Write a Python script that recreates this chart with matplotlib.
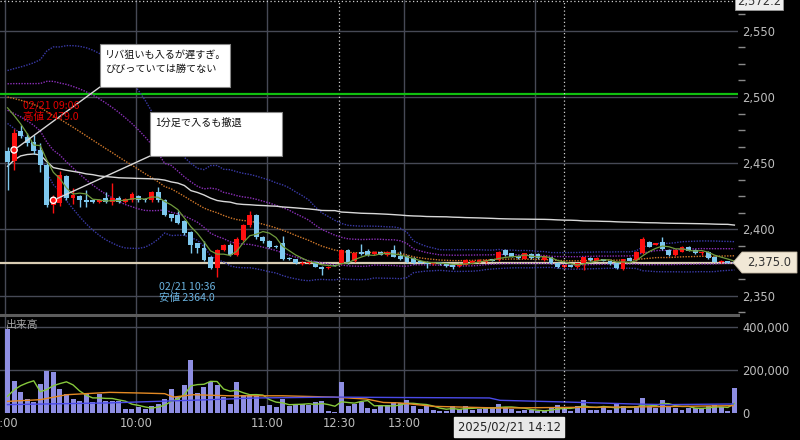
import matplotlib
matplotlib.use('Agg')
import matplotlib.pyplot as plt
import numpy as np
import pandas as pd
from matplotlib.patches import Rectangle, Polygon
from matplotlib.ticker import FixedLocator, MultipleLocator, FuncFormatter

# ---------------- data ----------------
opens = [2459.5, 2452, 2474.5, 2470, 2466, 2460, 2449, 2418.5, 2420, 2440,
         2423.5, 2425, 2422, 2422, 2421, 2424, 2420.5, 2424, 2421, 2422,
         2425.5, 2423, 2422, 2428.5, 2422, 2411.5, 2411, 2406, 2398, 2389.5,
         2386, 2379.5, 2370.7, 2384.5, 2388.5, 2381, 2392, 2403, 2411, 2394,
         2391, 2387.5, 2389.5, 2378.5, 2377.5, 2374, 2374.5, 2375.5, 2372, 2371,
         2373, 2374.5, 2384.5, 2376, 2383, 2384, 2381.8, 2383, 2380.5, 2384.5,
         2380, 2380, 2378.2, 2376, 2375, 2374, 2375, 2375, 2373.5, 2372.6,
         2373.2, 2374.5, 2375, 2375.5, 2377.5, 2377, 2384.5, 2382, 2380, 2378,
         2381.5, 2381.5, 2377, 2379, 2375, 2371.5, 2373, 2371.5, 2374.4, 2378.5,
         2376.5, 2377.5, 2376, 2375, 2370, 2378.5, 2377, 2382, 2390.7, 2388.5,
         2390.7, 2384.5, 2380.7, 2383.2, 2387, 2384.5, 2382, 2383.2, 2379.5, 2375.5,
         2376, 2375]
closes = [2451, 2473, 2470.5, 2465, 2459, 2449, 2418.5, 2424, 2441, 2424,
          2426, 2422, 2421, 2421, 2422, 2421, 2424, 2420.5, 2423, 2427,
          2422, 2422, 2428.5, 2422, 2411, 2409, 2404.5, 2397, 2388.5, 2386,
          2377, 2370.7, 2384.5, 2388.5, 2381, 2393, 2403, 2411, 2394, 2391,
          2387, 2386.5, 2378, 2377.5, 2374.5, 2375, 2375, 2372, 2370, 2372,
          2372.5, 2384.5, 2375, 2382, 2381.5, 2380.5, 2383, 2381, 2383, 2379.5,
          2377.5, 2375.7, 2374.4, 2375, 2374, 2375, 2374.5, 2372.6, 2372, 2374,
          2377, 2376.5, 2377, 2377, 2376.5, 2383.2, 2380.7, 2379.5, 2378.2, 2382,
          2378.5, 2378.5, 2380, 2374.4, 2371.5, 2373, 2372, 2374.4, 2379, 2377,
          2378.5, 2376.5, 2374, 2370.7, 2377.5, 2376.5, 2383.2, 2392.6, 2386.9, 2389.5,
          2385, 2380.7, 2384.5, 2387, 2384, 2382, 2382.8, 2378.2, 2375.7, 2376.5,
          2375, 2375]
highs = [2462, 2476, 2479, 2473, 2471, 2465, 2450, 2426, 2444, 2441,
         2431, 2426, 2430, 2423, 2423, 2428.5, 2435, 2425, 2424, 2428,
         2426, 2424, 2429, 2432, 2423, 2412, 2414, 2407, 2399, 2390,
         2391, 2380, 2385, 2389, 2390, 2394, 2404, 2414, 2412, 2395,
         2392, 2388, 2395, 2379, 2378, 2376, 2376, 2376, 2372.5, 2372.5,
         2373.5, 2385.5, 2385, 2383, 2389, 2385, 2384, 2383.5, 2383.5, 2388.3,
         2384, 2381, 2379, 2377, 2376, 2375.5, 2375.5, 2375.5, 2374, 2374.5,
         2377.5, 2377, 2377.5, 2377.5, 2378, 2384, 2385, 2382.5, 2380.5, 2382.5,
         2382, 2382, 2380.5, 2379.5, 2375.5, 2373.5, 2373.5, 2375, 2379.5, 2379,
         2379, 2378, 2376.5, 2375.5, 2378, 2379, 2383.5, 2394.6, 2391, 2390,
         2394, 2385, 2385, 2387.5, 2387.5, 2385, 2384, 2383.5, 2380, 2377,
         2376.5, 2375.5]
lows = [2430, 2445, 2469, 2463, 2457, 2443, 2417, 2412.5, 2418, 2422,
        2419, 2417, 2417, 2420, 2420, 2420, 2418.5, 2420, 2420, 2421,
        2421, 2421, 2421, 2421, 2410, 2406, 2404, 2396, 2382, 2382,
        2376, 2370, 2364, 2384, 2380, 2380, 2391, 2402, 2393, 2390,
        2386, 2386, 2377, 2377, 2374, 2373.5, 2374, 2371.5, 2365.5, 2370.5,
        2372.5, 2374, 2374, 2375.5, 2381, 2380, 2381, 2380.5, 2380, 2379,
        2377, 2375, 2374, 2374.5, 2370.7, 2373.5, 2373.5, 2372, 2370.5, 2372,
        2373, 2374, 2374.5, 2375, 2376, 2376.5, 2380, 2379, 2378, 2377.5,
        2378, 2378, 2376.5, 2374, 2371, 2371, 2371.5, 2371, 2369.5, 2376.5,
        2376, 2376, 2373.5, 2370, 2369.5, 2376, 2376.5, 2381.5, 2386.5, 2388,
        2384.5, 2380, 2380, 2383, 2383.5, 2381.5, 2380.5, 2378, 2375.5, 2375,
        2374.5, 2374.5]
volumes = [390000, 147000, 98000, 65000, 49000, 136000, 197000, 189000, 113000, 90000,
           65000, 57000, 90000, 49000, 90000, 54000, 54000, 57000, 20000, 20000,
           26000, 18000, 31000, 42000, 65000, 113000, 74000, 132000, 248000, 93000,
           121000, 142000, 128000, 74000, 42000, 142000, 85000, 82000, 77000, 31000,
           37000, 26000, 65000, 34000, 37000, 42000, 37000, 49000, 57000, 11000,
           3000, 142000, 31000, 42000, 51000, 23000, 20000, 36000, 36000, 49000,
           47000, 59000, 34000, 19000, 38000, 12000, 11000, 8000, 34000, 19000,
           31000, 16000, 19000, 26000, 26000, 42000, 26000, 20000, 11000, 12000,
           12000, 8000, 8000, 26000, 39000, 26000, 8000, 31000, 62000, 12000,
           16000, 31000, 16000, 42000, 31000, 16000, 31000, 70000, 34000, 23000,
           62000, 28000, 23000, 16000, 23000, 23000, 23000, 31000, 39000, 26000,
           10000, 116000]

prev_close = 2502.0
last_price = 2375.0
cursor_price = 2572.2

# volume moving-average lines (bar index, value)
vol_mid_idx = [0, 5, 9, 15.6, 20.2, 24, 25.3, 28.4, 34, 42, 49.7, 54.8, 57.4, 59.9, 65, 75.2, 85.4, 95.5, 110.8]
vol_mid = [54000, 62000, 85000, 96000, 93000, 90000, 74000, 85000, 80000, 80000, 74000, 65000, 49000, 47000, 31000, 23000, 26000, 28000, 34000]
vol_long_idx = [0, 15.6, 30.9, 38, 49.7, 60, 73.6, 75.2, 85.4, 95.5, 100.6, 110.8]
vol_long = [39000, 47000, 62000, 70000, 74000, 72000, 70000, 59000, 51000, 42000, 39000, 42000]

grid_idx = [0, 20, 40, 51, 61, 81]
time_idx = [0, 20, 40, 51, 61]
time_labels = ['9:00', '10:00', '11:00', '12:30', '13:00']
price_ticks = [2350, 2400, 2450, 2500, 2550]
vol_ticks = [0, 200000, 400000]
cursor_idx = 85
cursor_label = '2025/02/21 14:12'
session_idx = 51

hi_idx, hi_label = 2, '02/21 09:06\n高値 2479.0'
lo_idx, lo_label = 32, '02/21 10:36\n安値 2364.0'
notes = ['リバ狙いも入るが遅すぎ。\nびびっていては勝てない', '1分足で入るも撤退']
trade_idx = [1, 7]
trade_px = [2460, 2422]

# ---------------- indicators from the data ----------------
n = len(closes)
idx = np.arange(n)
c_arr = np.array(closes, float)
h_arr = np.array(highs, float)
l_arr = np.array(lows, float)
v_arr = np.array(volumes, float)

typ = (h_arr + l_arr + c_arr) / 3
vwap = np.cumsum(typ * v_arr) / np.cumsum(v_arr)

padded = pd.Series([prev_close] * 24 + closes)
bb_mid = padded.rolling(25).mean().to_numpy()[24:]
bb_sd = padded.rolling(25).std(ddof=0).to_numpy()[24:]
ma5 = padded.rolling(5).mean().to_numpy()[24:]
vma5 = pd.Series([0] * 4 + volumes).rolling(5).mean().to_numpy()[4:]

# ---------------- style ----------------
W, H = 800, 440
BG = '#000000'
RED = '#ff1010'
BLUE = '#7ec8ee'
GRID = '#464955'
TXT = '#bdbdbd'
JP = ['Noto Sans CJK JP', 'DejaVu Sans']

fig = plt.figure(figsize=(8, 4.4), dpi=100, facecolor=BG)

def fx(x):
    return x / W

def fy(y):
    return 1 - y / H

ax = fig.add_axes([0, fy(315), fx(738), 315 / H], facecolor=BG)
axv = fig.add_axes([0, fy(413), fx(738), 98 / H], facecolor=BG, sharex=ax)

ax.set_xlim(-1.15, 111.55)
ax.set_ylim(2335.4, 2573.2)
axv.set_ylim(0, 455800)

for a in (ax, axv):
    for s in a.spines.values():
        s.set_visible(False)

# grids
for p in price_ticks:
    ax.axhline(p, color=GRID, lw=1.0, zorder=1)
for v in vol_ticks[1:]:
    axv.axhline(v, color=GRID, lw=1.0, zorder=1)
for t in grid_idx:
    xv = t - 0.38
    if t == session_idx:
        ax.axvline(xv, color='#d0d0d0', lw=0.9, ls=(0, (1, 2)), zorder=1)
    else:
        ax.axvline(xv, color=GRID, lw=1.0, zorder=1)
    axv.axvline(xv, color=GRID, lw=1.0, zorder=1)
ax.axvline(cursor_idx, color='#cfcfcf', lw=0.9, ls=(0, (1, 2)), zorder=6)
axv.axvline(cursor_idx, color='#cfcfcf', lw=0.9, ls=(0, (1, 2)), zorder=6)
ax.axhline(cursor_price, color='#cfcfcf', lw=0.9, ls=(0, (1, 2)), zorder=6)

# reference lines
ax.axhline(prev_close, color='#10c010', lw=1.6, zorder=2)
ax.axhline(last_price, color='#d9cdb4', lw=1.6, zorder=2)

# bands & MAs
dot = (0, (1, 1))
ax.plot(idx, bb_mid + 2 * bb_sd, color='#3a3aa8', lw=1.0, ls=dot, zorder=2)
ax.plot(idx, bb_mid - 2 * bb_sd, color='#3a3aa8', lw=1.0, ls=dot, zorder=2)
ax.plot(idx, bb_mid + bb_sd, color='#8a2fb8', lw=1.0, ls=dot, zorder=2)
ax.plot(idx, bb_mid - bb_sd, color='#8a2fb8', lw=1.0, ls=dot, zorder=2)
ax.plot(idx, bb_mid, color='#d0782a', lw=1.0, ls=dot, zorder=2)
ax.plot(idx, vwap, color='#d8d8d8', lw=1.0, zorder=2)
ax.plot(idx, ma5, color='#6f9a3c', lw=0.9, zorder=4)

# candles
for i in range(n):
    o, h, l, c = opens[i], highs[i], lows[i], closes[i]
    col = RED if c > o else BLUE
    ax.vlines(i, l, h, color=col, lw=1.0, zorder=3)
    bot = min(o, c)
    ht = max(abs(c - o), 0.7)
    ax.add_patch(Rectangle((i - 0.37, bot), 0.74, ht, facecolor=col, edgecolor='none', zorder=3))

# trade markers
ax.scatter(trade_idx, trade_px, s=20, facecolors='none', edgecolors='white', linewidths=1.0, zorder=7)

# volume
axv.bar(idx, volumes, width=0.76, color='#8e8ee2', zorder=2)
axv.plot(idx, vma5, color='#86c83c', lw=1.0, zorder=3)
axv.plot(vol_mid_idx, vol_mid, color='#e48a24', lw=1.0, zorder=3)
axv.plot(vol_long_idx, vol_long, color='#4a4ae8', lw=1.0, zorder=3)

# axes ticks
ax.yaxis.tick_right()
ax.yaxis.set_major_locator(FixedLocator(price_ticks))
ax.yaxis.set_minor_locator(MultipleLocator(12.5))
ax.yaxis.set_major_formatter(FuncFormatter(lambda v, p: f'{v:,.0f}'))
ax.tick_params(axis='y', which='major', length=0, pad=3, labelsize=8.3, labelcolor=TXT)
ax.tick_params(axis='y', which='minor', length=5, width=1, color='#8a8a8a')
ax.tick_params(axis='x', which='both', bottom=False, labelbottom=False)

axv.yaxis.tick_right()
axv.yaxis.set_major_locator(FixedLocator(vol_ticks))
axv.yaxis.set_major_formatter(FuncFormatter(lambda v, p: f'{v:,.0f}'))
axv.tick_params(axis='y', length=0, pad=3, labelsize=8.3, labelcolor=TXT)
axv.xaxis.set_major_locator(FixedLocator([t - 0.38 for t in time_idx]))
axv.set_xticklabels(time_labels)
axv.tick_params(axis='x', length=0, pad=3, labelsize=8.3, labelcolor=TXT)

# panel separator
fig.add_artist(plt.Line2D([0, fx(738)], [fy(315), fy(315)], color='#5c5c5c', lw=2.2))

# text annotations
axv.text(0.008, 0.9, '出来高', transform=axv.transAxes, family=JP, fontsize=7.8,
         color='#a8a8a8', va='center', ha='left')
ax.text(hi_idx + 0.3, highs[hi_idx] + 2.0, hi_label, family=JP, fontsize=7.6, color='#e00000',
        ha='left', va='bottom', linespacing=1.15, zorder=8)
ax.text(lo_idx - 0.3, lows[lo_idx] - 3.5, lo_label, family=JP, fontsize=7.6, color='#6ab2de',
        ha='right', va='top', multialignment='right', linespacing=1.15, zorder=8)

# callout boxes
for (bx, by, bw, bh), txt, (ti, tp), corner in [
        ((100, 44, 130, 43), notes[0], (trade_idx[0], trade_px[0]), (100, 87)),
        ((150, 112, 132, 44), notes[1], (trade_idx[1], trade_px[1]), (150, 156))]:
    fig.add_artist(Rectangle((fx(bx), fy(by + bh)), bw / W, bh / H, transform=fig.transFigure,
                             facecolor='white', edgecolor='#888888', lw=0.8, zorder=9))
    fig.text(fx(bx + 5), fy(by + 6), txt, family=JP, fontsize=7.3, color='#111111',
             ha='left', va='top', linespacing=1.55, zorder=10)
    ax.annotate('', xy=(ti, tp), xytext=(fx(corner[0]), fy(corner[1])), textcoords='figure fraction',
                arrowprops=dict(arrowstyle='-', color='#d8d8d8', lw=1.0, shrinkA=0, shrinkB=3), zorder=7)

# last price tag
tag = Polygon([(fx(733), fy(262.5)), (fx(742), fy(252)), (fx(797), fy(252)),
               (fx(797), fy(273)), (fx(742), fy(273))], closed=True, transform=fig.transFigure,
              facecolor='#f1e8d6', edgecolor='#bdb39f', lw=0.6, zorder=9)
fig.add_artist(tag)
fig.text(fx(769), fy(262.5), f'{last_price:,.1f}', fontsize=8.3, color='#333333',
         ha='center', va='center', zorder=10)

# cursor price tag (top, clipped by the frame as in the original)
fig.text(fx(759), fy(1), f'{cursor_price:,.1f}', fontsize=8.3, color='#333333', ha='center', va='center',
         bbox=dict(boxstyle='square,pad=0.2', facecolor='#eeeeee', edgecolor='#999999', lw=0.6), zorder=10)

# cursor date tag
fig.text(fx(509), fy(427), cursor_label, fontsize=8.3, color='#222222', ha='center', va='center',
         bbox=dict(boxstyle='square,pad=0.3', facecolor='#e8e8e8', edgecolor='#e8e8e8'), zorder=10)

fig.savefig('out.png', dpi=100, facecolor=BG)
